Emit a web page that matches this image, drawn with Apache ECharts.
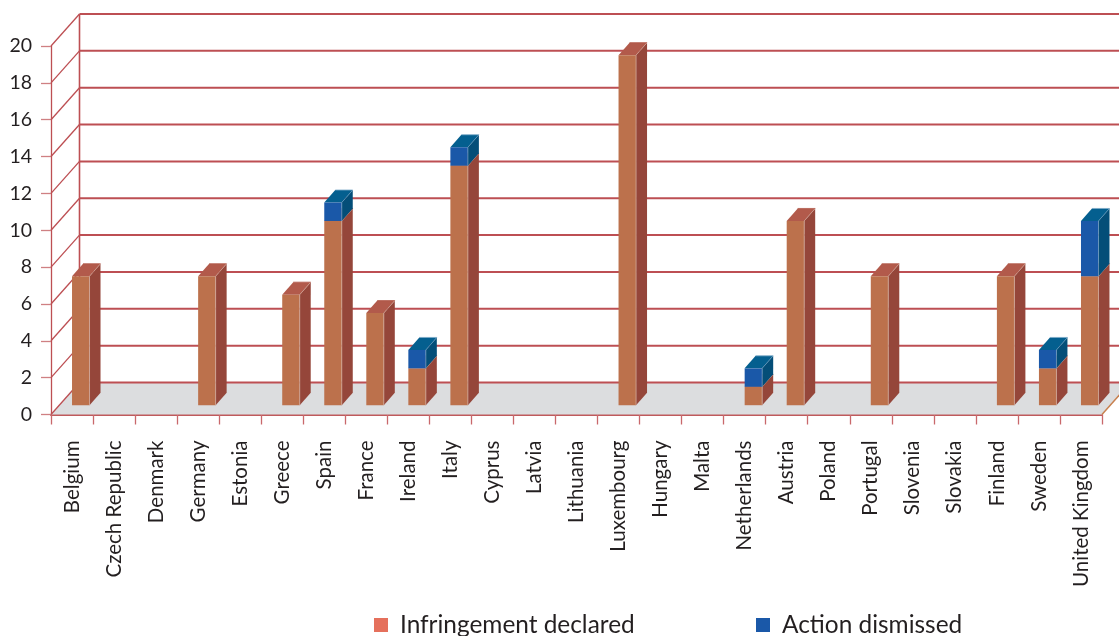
<!DOCTYPE html>
<html><head><meta charset="utf-8">
<style>html,body{margin:0;padding:0;background:#fff}#c{width:1119px;height:636px}</style>
<script src="https://cdn.jsdelivr.net/npm/echarts@6/dist/echarts.min.js"></script>
</head><body><div id="c"></div>
<script>
const categories = ["Belgium","Czech Republic","Denmark","Germany","Estonia","Greece","Spain","France","Ireland","Italy","Cyprus","Latvia","Lithuania","Luxembourg","Hungary","Malta","Netherlands","Austria","Poland","Portugal","Slovenia","Slovakia","Finland","Sweden","United Kingdom"];
const infringementDeclared = [7,0,0,7,0,6,10,5,2,13,0,0,0,19,0,0,1,10,0,7,0,0,7,2,7];
const actionDismissed      = [0,0,0,0,0,0,1,0,1,1,0,0,0,0,0,0,1,0,0,0,0,0,0,1,3];
const gridValues = [0,2,4,6,8,10,12,14,16,18,20];

const WALL_DX = 28.5, WALL_DY = -32;
const BAR_LIFT = -9.3, BAR_W = 17.5, BAR_DX = 11, BAR_DY = -12.5;
const LINE = '#bd4f53', FONT = 'Lato', TEXT = '#231f20';
const RED = {front:'#bc714c', side:'#95463a', top:'#b25a4b', edge:'#d0a89a', rim:'#b25a4b'};
const BLUE = {front:'#1a58a8', side:'#044e78', top:'#045f8f', edge:'#6f9cbf', rim:'#7aa8c6'};

function poly(points, fill){ return {type:'polygon', shape:{points}, style:{fill}}; }
function seg(a, b, stroke, lineWidth){ return {type:'line', shape:{x1:a[0],y1:a[1],x2:b[0],y2:b[1]}, style:{stroke, lineWidth}}; }

function renderFloor(params, api){
  const half = api.size([1,0])[0]/2;
  const y0 = api.coord([0,0])[1];
  const l = api.coord([0,0])[0]-half, r = api.coord([categories.length-1,0])[0]+half;
  return {type:'group', children:[
    poly([[l,y0],[l+WALL_DX,y0+WALL_DY],[r+WALL_DX,y0+WALL_DY],[r,y0]], '#dcdddf'),
    seg([r,y0],[r+WALL_DX,y0+WALL_DY],'#c8804f',1.5)
  ]};
}
function renderWall(params, api){
  const half = api.size([1,0])[0]/2;
  const v = api.value(0);
  const y = api.coord([0,v])[1];
  const l = api.coord([0,0])[0]-half, r = api.coord([categories.length-1,0])[0]+half;
  const children = [
    seg([l,y],[l+WALL_DX,y+WALL_DY],LINE,1.3),
    seg([l+WALL_DX,y+WALL_DY],[r+WALL_DX,y+WALL_DY],LINE,2)
  ];
  if (v === gridValues[gridValues.length-1]) {
    const y0 = api.coord([0,0])[1];
    children.push(seg([l+WALL_DX,y+WALL_DY],[l+WALL_DX,y0+WALL_DY],LINE,1.6));
  }
  return {type:'group', children};
}
function barRenderer(c){
  return function(params, api){
    const i = api.value(0), base = api.value(1), val = api.value(2);
    if (!val) return null;
    const x = api.coord([i,0])[0];
    const y0 = api.coord([i,base])[1]+BAR_LIFT, y1 = api.coord([i,base+val])[1]+BAR_LIFT;
    const xr = x+BAR_W;
    return {type:'group', children:[
      poly([[xr,y0],[xr+BAR_DX,y0+BAR_DY],[xr+BAR_DX,y1+BAR_DY],[xr,y1]], c.side),
      poly([[x,y1],[x+BAR_DX,y1+BAR_DY],[xr+BAR_DX,y1+BAR_DY],[xr,y1]], c.top),
      poly([[x,y0],[xr,y0],[xr,y1],[x,y1]], c.front),
      seg([xr,y0],[xr,y1],c.edge,0.8),
      seg([xr,y1],[xr+BAR_DX,y1+BAR_DY],c.edge,0.6),
      seg([x+BAR_DX,y1+BAR_DY],[xr+BAR_DX,y1+BAR_DY],c.rim,0.8)
    ]};
  };
}
const chart = echarts.init(document.getElementById('c'), null, {renderer:'canvas'});
const legendText = {fontFamily:FONT, fontSize:24.4, color:TEXT, padding:[0,0,0,7]};
chart.setOption({
  animation:false,
  backgroundColor:'#fff',
  grid:{left:51, top:46, width:1051, height:368.5},
  xAxis:{type:'category', data:categories, boundaryGap:true,
    axisLine:{lineStyle:{color:'#bf5a5c', width:2}},
    axisTick:{show:true, length:10, alignWithLabel:false, lineStyle:{color:'#c9686b', width:1.3}},
    axisLabel:{rotate:90, interval:0, margin:26, fontFamily:FONT, fontSize:20.5, color:TEXT, padding:[0,0,4,0]},
    splitLine:{show:false}},
  yAxis:{type:'value', min:0, max:20, interval:2,
    axisLine:{show:true, lineStyle:{color:LINE, width:1.3}},
    axisTick:{show:true, length:10, lineStyle:{color:'#cf8083', width:1.3}},
    axisLabel:{margin:19, fontFamily:FONT, fontSize:19.5, color:TEXT},
    splitLine:{show:false}},
  legend:[
    {data:[{name:'Infringement declared', icon:'rect', itemStyle:{color:'#e5705c'}}], left:374, top:613, itemWidth:14, itemHeight:14, textStyle:legendText, selectedMode:false, padding:0},
    {data:[{name:'Action dismissed', icon:'rect', itemStyle:{color:'#1a58a8'}}], left:756, top:613, itemWidth:14, itemHeight:14, textStyle:legendText, selectedMode:false, padding:0}
  ],
  series:[
    {type:'custom', name:'floor', silent:true, clip:false, z:1, data:[[0]], renderItem:renderFloor, encode:{x:[],y:[]}},
    {type:'custom', name:'wall', silent:true, clip:false, z:2, data:gridValues.map(v=>[v]), renderItem:renderWall, encode:{x:[],y:[]}},
    {type:'custom', name:'Infringement declared', silent:true, clip:false, z:3,
      itemStyle:{color:'#e5705c'},
      data:infringementDeclared.map((v,i)=>[i,0,v]), renderItem:barRenderer(RED), encode:{x:0,y:2}},
    {type:'custom', name:'Action dismissed', silent:true, clip:false, z:4,
      itemStyle:{color:'#1a58a8'},
      data:actionDismissed.map((v,i)=>[i,infringementDeclared[i],v]), renderItem:barRenderer(BLUE), encode:{x:0,y:2}}
  ]
});
</script></body></html>
